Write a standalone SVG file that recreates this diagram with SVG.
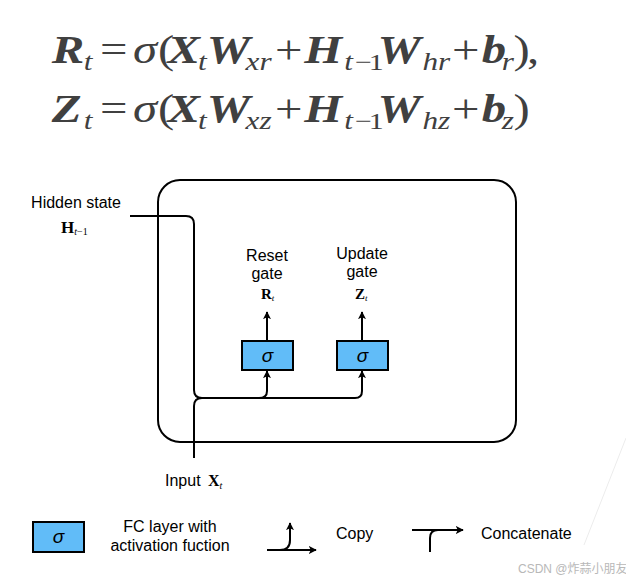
<svg xmlns="http://www.w3.org/2000/svg" width="626" height="581" viewBox="0 0 626 581">
<defs>
<style>
.eq{font-family:"Liberation Serif","Times New Roman",serif;fill:#404040;font-size:39px}
.bi{font-weight:bold;font-style:italic}
.it{font-style:italic}
.sub{font-size:25px;font-style:italic}
.subr{font-size:24px}
.lbl{font-family:"Liberation Sans",Arial,sans-serif;font-size:16px;fill:#000}
.mth{font-family:"Liberation Serif","Times New Roman",serif;fill:#000}
.ln{fill:none;stroke:#000;stroke-width:2}
.box{fill:#61bcf8;stroke:#000;stroke-width:2}
.sig{font-family:"Liberation Sans",Arial,sans-serif;font-style:italic;font-size:19px;fill:#000;text-anchor:middle}
</style>
<marker id="ah" viewBox="0 0 10 10" refX="9" refY="5" markerWidth="8" markerHeight="8" markerUnits="userSpaceOnUse" orient="auto">
<path d="M0,0 L10,5 L0,10 L2.5,5 z" fill="#000"/>
</marker>
</defs>
<rect width="626" height="581" fill="#fff"/>

<g id="equations" transform="scale(1.25,1)">
<text class="eq">
<tspan class="bi" x="41.5" y="63">R</tspan><tspan class="sub" x="67" y="70">t</tspan><tspan x="80" y="63">=</tspan><tspan class="it" x="106.5" y="63">σ</tspan><tspan x="126.5" y="63">(</tspan><tspan class="bi" x="134" y="63">X</tspan><tspan class="sub" x="158.5" y="70">t</tspan><tspan class="bi" x="165.5" y="63">W</tspan><tspan class="sub" x="196.5" y="70">xr</tspan><tspan x="220" y="63">+</tspan><tspan class="bi" x="243.5" y="63">H</tspan><tspan class="sub" x="275.5" y="70">t</tspan><tspan class="subr" x="284" y="70">−</tspan><tspan class="subr" x="295" y="70">1</tspan><tspan class="bi" x="302" y="63">W</tspan><tspan class="sub" x="338" y="70">hr</tspan><tspan x="361.6" y="63">+</tspan><tspan class="bi" x="385.5" y="63">b</tspan><tspan class="sub" x="401.5" y="70">r</tspan><tspan x="410.8" y="63">)</tspan><tspan x="421.6" y="63">,</tspan>
</text>
<text class="eq">
<tspan class="bi" x="41.5" y="122">Z</tspan><tspan class="sub" x="67" y="129">t</tspan><tspan x="80" y="122">=</tspan><tspan class="it" x="106.5" y="122">σ</tspan><tspan x="126.5" y="122">(</tspan><tspan class="bi" x="134" y="122">X</tspan><tspan class="sub" x="158.5" y="129">t</tspan><tspan class="bi" x="165.5" y="122">W</tspan><tspan class="sub" x="196.5" y="129">xz</tspan><tspan x="220" y="122">+</tspan><tspan class="bi" x="243.5" y="122">H</tspan><tspan class="sub" x="275.5" y="129">t</tspan><tspan class="subr" x="284" y="129">−</tspan><tspan class="subr" x="295" y="129">1</tspan><tspan class="bi" x="302" y="122">W</tspan><tspan class="sub" x="338" y="129">hz</tspan><tspan x="361.6" y="122">+</tspan><tspan class="bi" x="385.5" y="122">b</tspan><tspan class="sub" x="401.5" y="129">z</tspan><tspan x="410.8" y="122">)</tspan>
</text>
</g>

<g id="gru-cell">
<rect x="158" y="180" width="358" height="262" rx="22" class="ln"/>
</g>

<g id="connectors">
<path class="ln" d="M130,216 H186 Q194,216 194,224 V390 Q194,398 202,398 H355 Q362,398 362,391 V371" marker-end="url(#ah)"/>
<path class="ln" d="M194,458 V406 Q194,398 202,398"/>
<path class="ln" d="M252,398 H259 Q267,398 267,391 V371" marker-end="url(#ah)"/>
<path class="ln" d="M267,341 V312" marker-end="url(#ah)"/>
<path class="ln" d="M362,341 V312" marker-end="url(#ah)"/>
</g>

<g id="hidden-state">
<text class="lbl" x="76" y="208" text-anchor="middle">Hidden state</text>
<text class="mth" x="61" y="233"><tspan style="font-weight:bold;font-size:17px">H</tspan><tspan style="font-size:10px;font-style:italic" dy="2">t</tspan><tspan style="font-size:10px">−1</tspan></text>
</g>

<g id="input">
<text class="lbl" x="165" y="486">Input</text>
<text class="mth" x="208" y="486"><tspan style="font-weight:bold;font-size:16px">X</tspan><tspan style="font-size:10px;font-style:italic" dy="3">t</tspan></text>
</g>

<g id="reset-gate">
<rect class="box" x="242" y="341" width="51" height="29"/>
<text class="sig" x="267.5" y="362">σ</text>
<text class="lbl" x="267" y="261" text-anchor="middle">Reset</text>
<text class="lbl" x="267" y="279" text-anchor="middle">gate</text>
<text class="mth" x="261" y="299"><tspan style="font-weight:bold;font-size:15px">R</tspan><tspan style="font-size:9px;font-style:italic" dy="2">t</tspan></text>
</g>

<g id="update-gate">
<rect class="box" x="337" y="341" width="51" height="29"/>
<text class="sig" x="362.5" y="362">σ</text>
<text class="lbl" x="362" y="259" text-anchor="middle">Update</text>
<text class="lbl" x="362" y="277" text-anchor="middle">gate</text>
<text class="mth" x="355" y="299"><tspan style="font-weight:bold;font-size:15px">Z</tspan><tspan style="font-size:9px;font-style:italic" dy="2">t</tspan></text>
</g>

<g id="legend-fc">
<rect class="box" x="33" y="522" width="51" height="30"/>
<text class="sig" x="58.5" y="543">σ</text>
<text class="lbl" x="170" y="532" text-anchor="middle">FC layer with</text>
<text class="lbl" x="170" y="551" text-anchor="middle">activation fuction</text>
</g>

<g id="legend-copy">
<path class="ln" d="M267,550 H316" marker-end="url(#ah)"/>
<path class="ln" d="M280,550 Q290,550 290,540 V523" marker-end="url(#ah)"/>
<text class="lbl" x="336" y="539">Copy</text>
</g>

<g id="legend-concat">
<path class="ln" d="M412,530 H463" marker-end="url(#ah)"/>
<path class="ln" d="M430,552 V538 Q430,530 438,530"/>
<text class="lbl" x="481" y="539">Concatenate</text>
</g>

<g id="watermark">
<line x1="626" y1="438" x2="584" y2="545" stroke="#ececec" stroke-width="1"/>
<text x="518" y="573" style="font-family:'Liberation Sans','Noto Sans CJK SC',sans-serif;font-size:12px;fill:#b8b8b8">CSDN @炸蒜小朋友</text>
</g>
</svg>
